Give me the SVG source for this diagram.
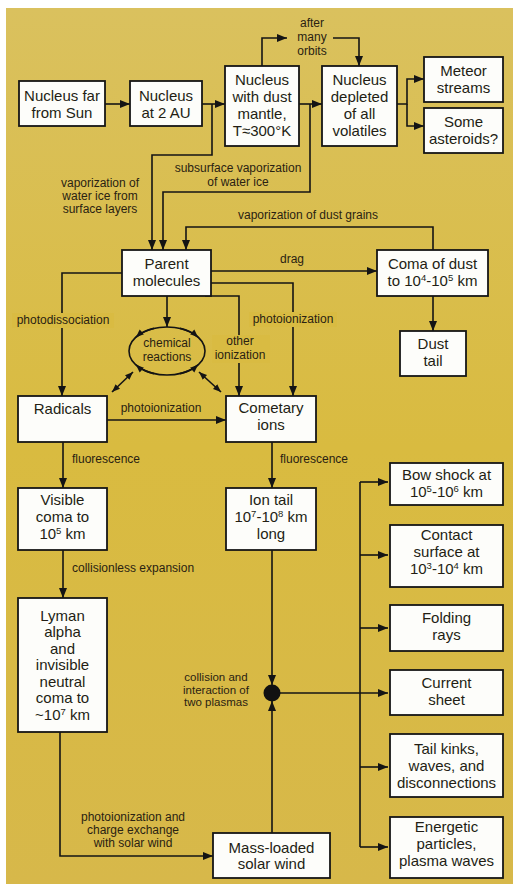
<svg xmlns="http://www.w3.org/2000/svg" width="513" height="885" viewBox="0 0 513 885">
<defs>
<linearGradient id="bg" x1="0" y1="0" x2="0" y2="1">
<stop offset="0" stop-color="#dac15e"/>
<stop offset="0.5" stop-color="#d9bb40"/>
<stop offset="1" stop-color="#d7b84a"/>
</linearGradient>
<marker id="ah" viewBox="0 0 10 8" refX="10" refY="4" markerWidth="10" markerHeight="8" markerUnits="userSpaceOnUse" orient="auto-start-reverse">
<path d="M0 0 L10 4 L0 8 z" fill="#141414"/>
</marker>
<marker id="ahs" viewBox="0 0 10 8" refX="10" refY="4" markerWidth="8" markerHeight="7" markerUnits="userSpaceOnUse" orient="auto-start-reverse">
<path d="M0 0 L10 4 L0 8 z" fill="#141414"/>
</marker>
</defs>
<style>
.box{fill:#fdfdfa;stroke:#161616;stroke-width:1.8}
.bt{font-family:"Liberation Sans",Arial,sans-serif;font-size:15px;fill:#231e14;text-anchor:middle}
.lt{font-family:"Liberation Sans",Arial,sans-serif;font-size:12px;fill:#2a2212;text-anchor:middle}
.ls{text-anchor:start}
.sm{font-size:11.5px}
.sup{font-size:9.5px}
.c{fill:none;stroke:#141414;stroke-width:1.6}
.a{marker-end:url(#ah)}
.gap{fill:#d9bb42}
</style>
<rect x="0" y="0" width="513" height="885" fill="#ffffff"/>
<rect x="6" y="8" width="507" height="876" fill="url(#bg)"/>

<g id="connectors">
<path class="c a" d="M105 104 H130"/>
<path class="c a" d="M202 104 H225"/>
<path class="c a" d="M299 104 H322"/>
<path class="c a" d="M397 104 H407 V79 H424"/>
<path class="c a" d="M407 104 V126 H424"/>
<path class="c a" d="M262 66 V38 H287"/>
<path class="c a" d="M333 38 H359 V66"/>
<path class="c a" d="M212 104 V155 H152 V250"/>
<path class="c a" d="M310 104 V192 H163 V250"/>
<path class="c a" d="M433 250 V227 H186 V250"/>
<path class="c a" d="M211 271 H377"/>
<path class="c a" d="M122 273 H62 V396"/>
<path class="c a" d="M211 283 H293 V396"/>
<path class="c a" d="M205 296 H239 V396"/>
<path class="c a" d="M167 296 V327"/>
<path class="c" d="M112 392 L133 372" style="marker-start:url(#ahs);marker-end:url(#ahs)"/>
<path class="c" d="M199 372 L221 392" style="marker-start:url(#ahs);marker-end:url(#ahs)"/>
<path class="c a" d="M107 420 H226"/>
<path class="c a" d="M433 296 V331"/>
<path class="c a" d="M63 442 V488"/>
<path class="c a" d="M272 442 V488"/>
<path class="c a" d="M63 550 V598"/>
<path class="c a" d="M272 550 V685"/>
<path class="c a" d="M272 833 V701"/>
<path class="c a" d="M60 732 V856 H213"/>
<path class="c a" d="M280 693 H388"/>
<path class="c" d="M360 482 V847"/>
<path class="c a" d="M360 482 H388"/>
<path class="c a" d="M360 555 H388"/>
<path class="c a" d="M360 628 H388"/>
<path class="c a" d="M360 767 H388"/>
<path class="c a" d="M360 847 H388"/>
<circle cx="272" cy="693" r="8.5" fill="#111"/>
</g>

<g id="chemical-reactions">
<ellipse cx="167" cy="351" rx="38" ry="24" fill="none" stroke="#141414" stroke-width="1.6"/>
<path class="c" d="M154 328.4 A38 24 0 0 0 135.9 337.2" style="marker-end:url(#ahs)"/>
<path class="c" d="M180 328.4 A38 24 0 0 1 198.1 337.2" style="marker-end:url(#ahs)"/>
<path class="c" d="M154 373.6 A38 24 0 0 1 135.9 364.8" style="marker-end:url(#ahs)"/>
<path class="c" d="M180 373.6 A38 24 0 0 0 198.1 364.8" style="marker-end:url(#ahs)"/>
<text class="lt" x="167" y="347">chemical</text>
<text class="lt" x="167" y="361">reactions</text>
</g>

<g id="labels">
<text class="lt" x="312" y="27">after</text>
<text class="lt" x="312" y="41">many</text>
<text class="lt" x="312" y="55">orbits</text>
<text class="lt" x="238" y="172">subsurface vaporization</text>
<text class="lt" x="238" y="186">of water ice</text>
<text class="lt" x="100" y="187">vaporization of</text>
<text class="lt" x="100" y="200">water ice from</text>
<text class="lt" x="100" y="213">surface layers</text>
<text class="lt" x="308" y="219">vaporization of dust grains</text>
<text class="lt" x="292" y="263">drag</text>
<rect class="gap" x="12" y="313" width="102" height="15"/>
<text class="lt" x="63" y="324">photodissociation</text>
<rect class="gap" x="249" y="312" width="88" height="15"/>
<text class="lt" x="293" y="323">photoionization</text>
<rect class="gap" x="212" y="335" width="58" height="28"/>
<text class="lt" x="240" y="345">other</text>
<text class="lt" x="240" y="358.5">ionization</text>
<text class="lt" x="161" y="412">photoionization</text>
<text class="lt ls" x="72" y="463">fluorescence</text>
<text class="lt ls" x="280" y="463">fluorescence</text>
<text class="lt ls" x="72" y="572">collisionless expansion</text>
<text class="lt sm" x="216" y="681">collision and</text>
<text class="lt sm" x="216" y="693.5">interaction of</text>
<text class="lt sm" x="216" y="706">two plasmas</text>
<text class="lt" x="133" y="821">photoionization and</text>
<text class="lt" x="133" y="834">charge exchange</text>
<text class="lt" x="133" y="847">with solar wind</text>
</g>

<g id="nucleus-far">
<rect class="box" x="19" y="81" width="86" height="45"/>
<text class="bt" x="62" y="101">Nucleus far</text>
<text class="bt" x="62" y="118">from Sun</text>
</g>
<g id="nucleus-2au">
<rect class="box" x="130" y="81" width="72" height="45"/>
<text class="bt" x="166" y="101">Nucleus</text>
<text class="bt" x="166" y="118">at 2 AU</text>
</g>
<g id="nucleus-dust-mantle">
<rect class="box" x="225" y="66" width="74" height="80"/>
<text class="bt" x="262" y="85">Nucleus</text>
<text class="bt" x="262" y="102">with dust</text>
<text class="bt" x="262" y="119">mantle,</text>
<text class="bt" x="262" y="136">T≈300°K</text>
</g>
<g id="nucleus-depleted">
<rect class="box" x="322" y="66" width="75" height="80"/>
<text class="bt" x="359.5" y="85">Nucleus</text>
<text class="bt" x="359.5" y="102">depleted</text>
<text class="bt" x="359.5" y="119">of all</text>
<text class="bt" x="359.5" y="136">volatiles</text>
</g>
<g id="meteor-streams">
<rect class="box" x="424" y="57" width="79" height="45"/>
<text class="bt" x="463.5" y="76">Meteor</text>
<text class="bt" x="463.5" y="93">streams</text>
</g>
<g id="some-asteroids">
<rect class="box" x="424" y="108" width="79" height="45"/>
<text class="bt" x="463.5" y="127">Some</text>
<text class="bt" x="463.5" y="144">asteroids?</text>
</g>
<g id="parent-molecules">
<rect class="box" x="122" y="250" width="89" height="46"/>
<text class="bt" x="166.5" y="269">Parent</text>
<text class="bt" x="166.5" y="286">molecules</text>
</g>
<g id="coma-of-dust">
<rect class="box" x="377" y="250" width="111" height="46"/>
<text class="bt" x="432.5" y="269">Coma of dust</text>
<text class="bt" x="432.5" y="286">to 10<tspan class="sup" dy="-5">4</tspan><tspan dy="5">-10</tspan><tspan class="sup" dy="-5">5</tspan><tspan dy="5"> km</tspan></text>
</g>
<g id="dust-tail">
<rect class="box" x="400" y="331" width="66" height="45"/>
<text class="bt" x="433" y="349">Dust</text>
<text class="bt" x="433" y="366">tail</text>
</g>
<g id="radicals">
<rect class="box" x="18" y="396" width="89" height="46"/>
<text class="bt" x="62.5" y="414">Radicals</text>
</g>
<g id="cometary-ions">
<rect class="box" x="226" y="396" width="90" height="46"/>
<text class="bt" x="271" y="413">Cometary</text>
<text class="bt" x="271" y="430">ions</text>
</g>
<g id="visible-coma">
<rect class="box" x="18" y="488" width="89" height="62"/>
<text class="bt" x="62.5" y="505">Visible</text>
<text class="bt" x="62.5" y="522">coma to</text>
<text class="bt" x="62.5" y="539">10<tspan class="sup" dy="-5">5</tspan><tspan dy="5"> km</tspan></text>
</g>
<g id="ion-tail">
<rect class="box" x="226" y="488" width="90" height="62"/>
<text class="bt" x="271" y="505">Ion tail</text>
<text class="bt" x="271" y="522">10<tspan class="sup" dy="-5">7</tspan><tspan dy="5">-10</tspan><tspan class="sup" dy="-5">8</tspan><tspan dy="5"> km</tspan></text>
<text class="bt" x="271" y="539">long</text>
</g>
<g id="lyman-alpha">
<rect class="box" x="18" y="598" width="89" height="134"/>
<text class="bt" x="62.5" y="621">Lyman</text>
<text class="bt" x="62.5" y="637">alpha</text>
<text class="bt" x="62.5" y="654">and</text>
<text class="bt" x="62.5" y="670">invisible</text>
<text class="bt" x="62.5" y="687">neutral</text>
<text class="bt" x="62.5" y="703">coma to</text>
<text class="bt" x="62.5" y="720">~10<tspan class="sup" dy="-5">7</tspan><tspan dy="5"> km</tspan></text>
</g>
<g id="mass-loaded-solar-wind">
<rect class="box" x="213" y="833" width="117" height="45"/>
<text class="bt" x="271.5" y="853">Mass-loaded</text>
<text class="bt" x="271.5" y="869">solar wind</text>
</g>
<g id="bow-shock">
<rect class="box" x="390" y="463" width="113" height="42"/>
<text class="bt" x="446.5" y="480">Bow shock at</text>
<text class="bt" x="446.5" y="497">10<tspan class="sup" dy="-5">5</tspan><tspan dy="5">-10</tspan><tspan class="sup" dy="-5">6</tspan><tspan dy="5"> km</tspan></text>
</g>
<g id="contact-surface">
<rect class="box" x="390" y="525" width="113" height="62"/>
<text class="bt" x="446.5" y="540">Contact</text>
<text class="bt" x="446.5" y="557">surface at</text>
<text class="bt" x="446.5" y="574">10<tspan class="sup" dy="-5">3</tspan><tspan dy="5">-10</tspan><tspan class="sup" dy="-5">4</tspan><tspan dy="5"> km</tspan></text>
</g>
<g id="folding-rays">
<rect class="box" x="390" y="605" width="113" height="46"/>
<text class="bt" x="446.5" y="623">Folding</text>
<text class="bt" x="446.5" y="640">rays</text>
</g>
<g id="current-sheet">
<rect class="box" x="390" y="670" width="113" height="45"/>
<text class="bt" x="446.5" y="688">Current</text>
<text class="bt" x="446.5" y="705">sheet</text>
</g>
<g id="tail-kinks">
<rect class="box" x="390" y="734" width="113" height="63"/>
<text class="bt" x="446.5" y="754">Tail kinks,</text>
<text class="bt" x="446.5" y="771">waves, and</text>
<text class="bt" x="446.5" y="788">disconnections</text>
</g>
<g id="energetic-particles">
<rect class="box" x="390" y="817" width="113" height="61"/>
<text class="bt" x="446.5" y="832">Energetic</text>
<text class="bt" x="446.5" y="849">particles,</text>
<text class="bt" x="446.5" y="866">plasma waves</text>
</g>
</svg>
